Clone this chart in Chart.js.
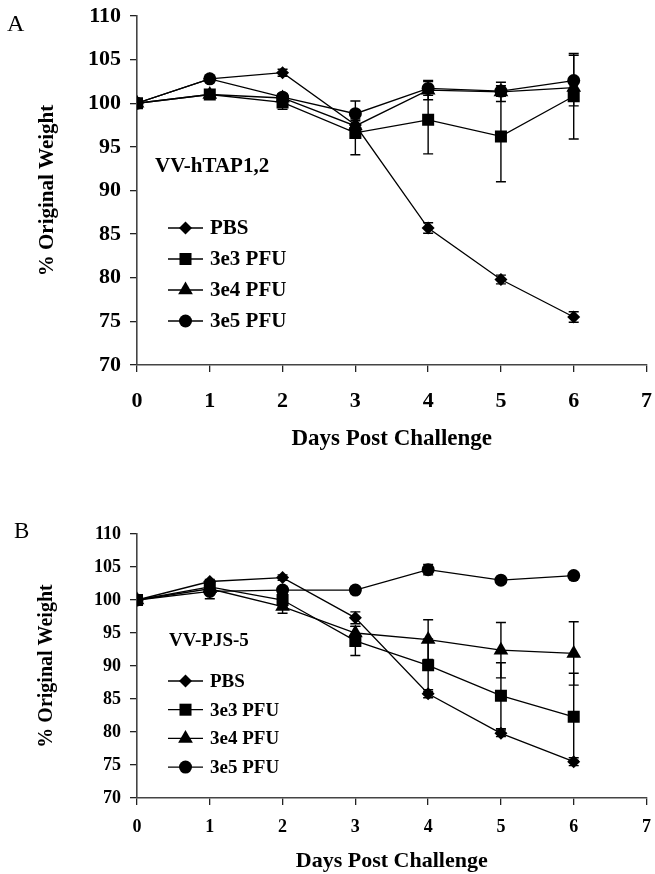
<!DOCTYPE html>
<html>
<head>
<meta charset="utf-8">
<script src="https://cdn.jsdelivr.net/npm/chart.js@4/dist/chart.umd.min.js"></script>
<style>
  body { margin: 0; background: #fff; }
  canvas { position: absolute; left: 0; }
  #chartA { top: 0; }
  #chartB { top: 450px; }
</style>
</head>
<body>
<canvas id="chartA" width="655" height="450"></canvas>
<canvas id="chartB" width="655" height="424"></canvas>
<script>
// Shared
const days = [0, 1, 2, 3, 4, 5, 6];
const seriesLabels = ['PBS', '3e3 PFU', '3e4 PFU', '3e5 PFU'];
const seriesMarkers = ['rectRot', 'rect', 'triangle', 'circle'];
const markerSizes = [6.5, 8.5, 8.5, 6.5];

// Panel A - VV-hTAP1,2
const aPBS = [100, 102.8, 103.5, 97.5, 85.7, 79.8, 75.5];
const aPBSErr = [0, 0.3, 0.4, 0.5, 0.6, 0.5, 0.6];
const a3e3 = [100, 101.0, 100.1, 96.6, 98.1, 96.2, 100.8];
const a3e3Err = [0, 0.3, 0.8, 2.5, 3.9, 5.2, 4.9];
const a3e4 = [100, 101.0, 100.6, 97.4, 101.5, 101.3, 101.8];
const a3e4Err = [0, 0.2, 0.5, 0.8, 1.1, 1.1, 0.5];
const a3e5 = [100, 102.8, 100.7, 98.8, 101.7, 101.4, 102.6];
const a3e5Err = [0, 0.2, 0.4, 1.45, 0.8, 0.6, 2.9];

// Panel B - VV-PJS-5
const bPBS = [100, 102.8, 103.4, 97.3, 85.8, 79.8, 75.5];
const bPBSErr = [0, 0.3, 0.4, 0.9, 0.6, 0.5, 0.6];
const b3e3 = [100, 102.0, 100.0, 93.8, 90.1, 85.5, 82.3];
const b3e3Err = [0, 0.5, 1.0, 2.2, 4.0, 5.0, 6.6];
const b3e4 = [100, 101.7, 99.0, 95.0, 94.0, 92.4, 91.9];
const b3e4Err = [0, 0.5, 1.0, 1.0, 3.0, 4.2, 4.8];
const b3e5 = [100, 101.3, 101.5, 101.5, 104.6, 103.0, 103.7];
const b3e5Err = [0, 1.1, 0.5, 0.5, 0.8, 0.4, 0.4];

const SERIF = "'Liberation Serif', 'Times New Roman', serif";

function drawMarker(ctx, style, r, x, y) {
  ctx.beginPath();
  if (style === 'circle') {
    ctx.arc(x, y, r, 0, Math.PI * 2);
  } else if (style === 'rect') {
    const s = r * Math.SQRT1_2;
    ctx.rect(x - s, y - s, 2 * s, 2 * s);
  } else if (style === 'rectRot') {
    ctx.moveTo(x - r, y); ctx.lineTo(x, y - r);
    ctx.lineTo(x + r, y); ctx.lineTo(x, y + r);
    ctx.closePath();
  } else if (style === 'triangle') {
    ctx.moveTo(x, y - r);
    ctx.lineTo(x + 0.866 * r, y + 0.5 * r);
    ctx.lineTo(x - 0.866 * r, y + 0.5 * r);
    ctx.closePath();
  }
  ctx.fill();
}

// Error bars through the chart's own scales
const errorBars = {
  id: 'errorBars',
  afterDatasetsDraw(chart) {
    const ctx = chart.ctx;
    const y = chart.scales.y;
    ctx.save();
    ctx.strokeStyle = '#000';
    ctx.lineWidth = 1.4;
    chart.data.datasets.forEach((ds, i) => {
      const meta = chart.getDatasetMeta(i);
      (ds.errors || []).forEach((e, j) => {
        if (!e) return;
        const px = meta.data[j].x;
        const v = ds.data[j].y;
        const top = y.getPixelForValue(v + e);
        const bot = y.getPixelForValue(v - e);
        ctx.beginPath();
        ctx.moveTo(px, top); ctx.lineTo(px, bot);
        ctx.moveTo(px - 5, top); ctx.lineTo(px + 5, top);
        ctx.moveTo(px - 5, bot); ctx.lineTo(px + 5, bot);
        ctx.stroke();
      });
    });
    ctx.restore();
  }
};

// Inset legend, construct name and panel letter
const decor = {
  id: 'decor',
  afterDraw(chart, args, o) {
    const ctx = chart.ctx;
    ctx.save();
    ctx.fillStyle = '#000';
    ctx.strokeStyle = '#000';
    ctx.textBaseline = 'middle';
    ctx.textAlign = 'left';

    ctx.font = 'bold ' + o.tagSize + 'px ' + SERIF;
    ctx.fillText(o.tag, o.tagX, o.tagY);

    ctx.font = 'bold ' + o.legendSize + 'px ' + SERIF;
    chart.data.datasets.forEach((ds, i) => {
      const ry = o.legendY + i * o.rowGap;
      ctx.lineWidth = 1.3;
      ctx.beginPath();
      ctx.moveTo(o.legendX, ry);
      ctx.lineTo(o.legendX + 35, ry);
      ctx.stroke();
      drawMarker(ctx, ds.pointStyle, ds.pointRadius, o.legendX + 17.5, ry);
      ctx.fillText(ds.label, o.legendX + 42, ry + 1);
    });

    ctx.textBaseline = 'alphabetic';
    ctx.font = o.letterSize + 'px ' + SERIF;
    ctx.fillText(o.letter, o.letterX, o.letterY);
    ctx.restore();
  }
};

function buildDatasets(values, errors) {
  return values.map((v, i) => ({
    label: seriesLabels[i],
    data: v.map((val, j) => ({ x: days[j], y: val })),
    errors: errors[i],
    borderColor: '#000',
    borderWidth: 1.3,
    backgroundColor: '#000',
    pointStyle: seriesMarkers[i],
    pointRadius: markerSizes[i],
    pointBorderWidth: 0,
    pointBackgroundColor: '#000',
    tension: 0
  }));
}

function makeChart(id, datasets, p) {
  return new Chart(document.getElementById(id), {
    type: 'line',
    data: { datasets },
    options: {
      responsive: false,
      animation: false,
      devicePixelRatio: 1,
      layout: { padding: { top: p.padTop, right: 7, left: 0, bottom: 0 } },
      plugins: {
        legend: { display: false },
        tooltip: { enabled: false },
        decor: p.decor
      },
      scales: {
        x: {
          type: 'linear',
          min: 0, max: 7,
          afterFit: s => { s.height = p.xHeight; s.paddingLeft = 0; s.paddingRight = 0; },
          ticks: {
            stepSize: 1, color: '#000', padding: p.xTickPad,
            font: { family: SERIF, size: p.tickSize, weight: 'bold' }
          },
          grid: { drawOnChartArea: false, drawTicks: true, tickLength: 7, color: '#222', lineWidth: 1.3 },
          border: { color: '#444', width: 1.6 },
          title: {
            display: true, text: 'Days Post Challenge', color: '#000',
            padding: { top: 0, bottom: p.xTitlePad },
            font: { family: SERIF, size: p.xTitleSize, weight: 'bold' }
          }
        },
        y: {
          min: 70, max: 110,
          afterFit: s => { s.width = 137; s.paddingTop = 0; s.paddingBottom = 0; },
          ticks: {
            stepSize: 5, color: '#000', padding: 9,
            font: { family: SERIF, size: p.tickSize, weight: 'bold' }
          },
          grid: { drawOnChartArea: false, drawTicks: true, tickLength: 7, color: '#222', lineWidth: 1.3 },
          border: { color: '#444', width: 1.6 },
          title: {
            display: true, text: '% Original Weight', color: '#000',
            padding: { top: 35, bottom: 0 },
            font: { family: SERIF, size: p.yTitleSize, weight: 'bold' }
          }
        }
      }
    },
    plugins: [errorBars, decor]
  });
}

makeChart('chartA',
  buildDatasets([aPBS, a3e3, a3e4, a3e5], [aPBSErr, a3e3Err, a3e4Err, a3e5Err]),
  {
    padTop: 16, xHeight: 85, xTickPad: 16, tickSize: 22, xTitleSize: 23, yTitleSize: 21, xTitlePad: -3,
    decor: {
      tag: 'VV-hTAP1,2', tagX: 155, tagY: 167, tagSize: 21,
      legendX: 168, legendY: 228, rowGap: 31, legendSize: 21,
      letter: 'A', letterX: 7, letterY: 31, letterSize: 24
    }
  });

makeChart('chartB',
  buildDatasets([bPBS, b3e3, b3e4, b3e5], [bPBSErr, b3e3Err, b3e4Err, b3e5Err]),
  {
    padTop: 84, xHeight: 76, xTickPad: 12, tickSize: 18, xTitleSize: 22, yTitleSize: 20, xTitlePad: -1,
    decor: {
      tag: 'VV-PJS-5', tagX: 169, tagY: 191, tagSize: 19,
      legendX: 168, legendY: 231, rowGap: 28.7, legendSize: 19,
      letter: 'B', letterX: 14, letterY: 88, letterSize: 23
    }
  });
</script>
</body>
</html>
